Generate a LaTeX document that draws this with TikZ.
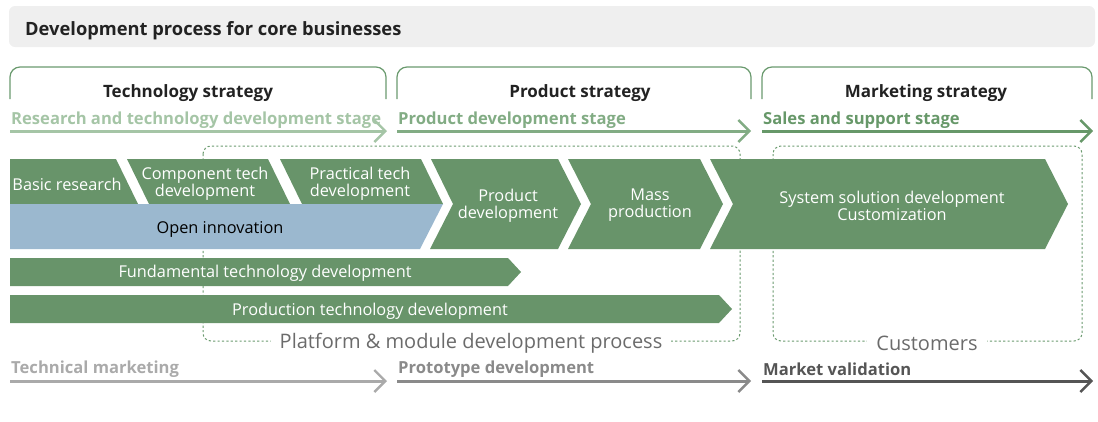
\documentclass[tikz,border=0pt]{standalone}
\usepackage{fontspec}
\setmainfont{Open Sans}
\usetikzlibrary{arrows.meta}
\definecolor{titlebg}{HTML}{EFEFEF}
\definecolor{gline}{HTML}{6A9A6E}
\definecolor{stA}{HTML}{A5C5A6}
\definecolor{stB}{HTML}{82AC84}
\definecolor{stC}{HTML}{679869}
\definecolor{chev}{HTML}{68946A}
\definecolor{oblue}{HTML}{9BB8CF}
\definecolor{gA}{HTML}{AAAAAA}
\definecolor{gB}{HTML}{8A8A8A}
\definecolor{gC}{HTML}{555555}
\definecolor{boxtxt}{HTML}{6B6B6B}
\definecolor{dark}{HTML}{222222}
\tikzset{
  bracket/.style={draw=gline, line width=1.2pt, rounded corners=10pt},
  strat/.style={font=\bfseries\fontsize{17}{20}\selectfont, text=dark, inner sep=0pt, yshift=-1pt},
  stagearrow/.style={line width=3pt, -{Straight Barb[length=11pt,width=22pt,line width=2.4pt]}},
  stagelabel/.style={font=\bfseries\fontsize{16.6}{19}\selectfont, inner sep=0pt, anchor=west, yshift=-1.5pt},
  chevtxt/.style={font=\fontsize{16.3}{17}\selectfont, text=white, align=center, inner sep=0pt, yshift=-2.5pt},
  dashbox/.style={draw=gline, line width=1pt, dash pattern=on 2.2pt off 2.2pt, rounded corners=8pt},
  boxlabel/.style={font=\fontsize{20}{23}\selectfont, text=boxtxt, fill=white, inner xsep=9pt, inner ysep=2pt},
}
\begin{document}
\begin{tikzpicture}[x=1pt,y=-1pt]
\useasboundingbox (0,0) rectangle (1098,421);
% title bar
\fill[titlebg, rounded corners=6pt] (9,6) rectangle (1095,47);
\node[anchor=west, font=\bfseries\fontsize{18.3}{21}\selectfont, text=dark, inner sep=0pt, yshift=-3pt] (title) at (25,28) {Development process for core businesses};
% strategy brackets
\draw[bracket] (10,99) |- (386,67) -- (386,99);
\draw[bracket] (397,99) |- (751,67) -- (751,99);
\draw[bracket] (762,99) |- (1092,67) -- (1092,99);
\node[strat] (ts) at (188,92) {Technology strategy};
\node[strat] (ps) at (580,92) {Product strategy};
\node[strat] (ms) at (926,92) {Marketing strategy};
% stage arrows
\coordinate (s1a) at (10,131); \coordinate (s1b) at (387,131);
\coordinate (s2a) at (397,131); \coordinate (s2b) at (751,131);
\coordinate (s3a) at (762,131); \coordinate (s3b) at (1093,131);
\draw[stagearrow, stA] (s1a) -- (s1b);
\draw[stagearrow, stB] (s2a) -- (s2b);
\draw[stagearrow, stC] (s3a) -- (s3b);
\node[stagelabel, text=stA] (s1l) at (11,119) {Research and technology development stage};
\node[stagelabel, text=stB] (s2l) at (398,119) {Product development stage};
\node[stagelabel, text=stC] (s3l) at (763,119) {Sales and support stage};
% dashed boxes
\draw[dashbox] (203,146) rectangle (740,341);
\draw[dashbox] (773,146) rectangle (1082,341);
\node[boxlabel, yshift=-2pt] (pl) at (471,341) {Platform \& module development process};
\node[boxlabel, yshift=-2pt] (cu) at (927,341) {Customers};
% chevrons
\fill[chev] (10,159) -- (116,159) -- (138,204) -- (10,204) -- cycle;
\fill[chev] (127,159) -- (268,159) -- (290,204) -- (149,204) -- cycle;
\fill[chev] (280,159) -- (421,159) -- (443,204) -- (302,204) -- cycle;
\fill[oblue] (10,204) -- (443,204) -- (420,249) -- (10,249) -- cycle;
\fill[chev] (431,159) -- (558,159) -- (581,204) -- (558,249) -- (430,249) -- (453,204) -- cycle;
\fill[chev] (568,159) -- (700,159) -- (723,204) -- (700,249) -- (568,249) -- (591,204) -- cycle;
\fill[chev] (710,159) -- (1045,159) -- (1068,204) -- (1045,249) -- (710,249) -- (733,204) -- cycle;
\node[chevtxt] (br) at (67,182) {Basic research};
\node[chevtxt] (ct) at (205,181) {Component tech\\development};
\node[chevtxt] (pt) at (360,181) {Practical tech\\development};
\node[chevtxt, text=black] (oi) at (220,227) {Open innovation};
\node[chevtxt] (pd) at (508,203) {Product\\development};
\node[chevtxt] (mp) at (650,203) {Mass\\production};
\node[chevtxt] (ss) at (892,203) {System solution development\\Customization};
% bars
\fill[chev] (10,258) -- (508,258) -- (521,272) -- (508,286) -- (10,286) -- cycle;
\fill[chev] (10,295) -- (719,295) -- (732,309) -- (719,323) -- (10,323) -- cycle;
\node[chevtxt] (ft) at (265,271) {Fundamental technology development};
\node[chevtxt] (prt) at (370,309) {Production technology development};
% bottom arrows
\coordinate (b1a) at (10,381); \coordinate (b1b) at (387,381);
\coordinate (b2a) at (397,381); \coordinate (b2b) at (751,381);
\coordinate (b3a) at (762,381); \coordinate (b3b) at (1093,381);
\draw[stagearrow, gA] (b1a) -- (b1b);
\draw[stagearrow, gB] (b2a) -- (b2b);
\draw[stagearrow, gC] (b3a) -- (b3b);
\node[stagelabel, text=gA] (b1l) at (11,368) {Technical marketing};
\node[stagelabel, text=gB] (b2l) at (398,368) {Prototype development};
\node[stagelabel, text=gC] (b3l) at (763,368) {Market validation};
\end{tikzpicture}
\end{document}
